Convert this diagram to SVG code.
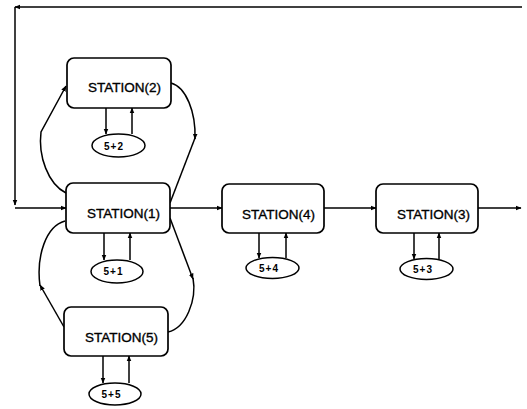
<svg xmlns="http://www.w3.org/2000/svg" width="527" height="409" viewBox="0 0 527 409">
<style>
.box{fill:#fff;stroke:#000;stroke-width:1.7}
.ell{fill:#fff;stroke:#000;stroke-width:1.5}
.lbl{font-family:"Liberation Sans",Arial,sans-serif;font-size:13.5px;text-anchor:middle;fill:#000;stroke:#000;stroke-width:0.35}
.sm{font-family:"Liberation Sans",Arial,sans-serif;font-size:10px;font-weight:bold;letter-spacing:1px;text-anchor:middle;fill:#000}
.ln{fill:none;stroke:#000;stroke-width:1.5}
</style>
<defs>
<marker id="ah" viewBox="0 0 10 10" refX="9" refY="5" markerWidth="6" markerHeight="6" markerUnits="userSpaceOnUse" orient="auto">
<path d="M0,1 L10,5 L0,9 Z" fill="#000"/>
</marker>
</defs>
<g id="connectors">
<path class="ln" d="M522,7 L15,7" marker-end="url(#ah)"/>
<path class="ln" d="M15,7 L15,205" marker-end="url(#ah)"/>
<path class="ln" d="M15,208 L66,208" marker-end="url(#ah)"/>
<path class="ln" d="M170,208 L222,208" marker-end="url(#ah)"/>
<path class="ln" d="M324,208 L376,208" marker-end="url(#ah)"/>
<path class="ln" d="M478,208 L521,208" marker-end="url(#ah)"/>
<path class="ln" d="M66,193 C48,184 38,156 41,132 L66,86" marker-end="url(#ah)"/>
<path class="ln" d="M171,83 C186,87 196,112 195,139" marker-end="url(#ah)"/>
<path class="ln" d="M195,138 L170,203"/>
<path class="ln" d="M170,218 L193,279" marker-end="url(#ah)"/>
<path class="ln" d="M193,278 C197,300 186,328 168,332"/>
<path class="ln" d="M64,327 L40,285" marker-end="url(#ah)"/>
<path class="ln" d="M40,286 C36,256 46,226 65,221"/>
<path class="ln" d="M106,108 L106,134" marker-end="url(#ah)"/>
<path class="ln" d="M132,134 L132,108" marker-end="url(#ah)"/>
<path class="ln" d="M104,233 L104,260" marker-end="url(#ah)"/>
<path class="ln" d="M130,260 L130,233" marker-end="url(#ah)"/>
<path class="ln" d="M103,356 L103,383" marker-end="url(#ah)"/>
<path class="ln" d="M129,383 L129,356" marker-end="url(#ah)"/>
<path class="ln" d="M259,233 L259,258" marker-end="url(#ah)"/>
<path class="ln" d="M286,258 L286,233" marker-end="url(#ah)"/>
<path class="ln" d="M414,233 L414,259" marker-end="url(#ah)"/>
<path class="ln" d="M439,259 L439,233" marker-end="url(#ah)"/>
</g>
<g id="station2">
<rect class="box" x="67" y="58" width="104" height="50" rx="7"/>
<text class="lbl" x="124.5" y="92">STATION(2)</text>
</g>
<g id="e52">
<ellipse class="ell" cx="118.5" cy="145.5" rx="26.5" ry="11.5"/>
<text class="sm" x="114" y="149.5">5+2</text>
</g>
<g id="station1">
<rect class="box" x="66" y="183" width="104" height="50" rx="7"/>
<text class="lbl" x="123.5" y="218">STATION(1)</text>
</g>
<g id="e51">
<ellipse class="ell" cx="117" cy="271.5" rx="26" ry="11.5"/>
<text class="sm" x="113.5" y="275">5+1</text>
</g>
<g id="station5">
<rect class="box" x="64" y="307" width="104" height="49" rx="7"/>
<text class="lbl" x="121.5" y="342">STATION(5)</text>
</g>
<g id="e55">
<ellipse class="ell" cx="115" cy="394" rx="26" ry="11"/>
<text class="sm" x="111.5" y="397.5">5+5</text>
</g>
<g id="station4">
<rect class="box" x="222" y="184" width="102" height="49" rx="7"/>
<text class="lbl" x="278.5" y="219">STATION(4)</text>
</g>
<g id="e54">
<ellipse class="ell" cx="272.5" cy="268" rx="26.5" ry="10.5"/>
<text class="sm" x="269" y="271.5">5+4</text>
</g>
<g id="station3">
<rect class="box" x="376" y="184" width="102" height="49" rx="7"/>
<text class="lbl" x="433.5" y="219">STATION(3)</text>
</g>
<g id="e53">
<ellipse class="ell" cx="426.5" cy="269" rx="26.5" ry="10.5"/>
<text class="sm" x="423" y="272.5">5+3</text>
</g>
</svg>
